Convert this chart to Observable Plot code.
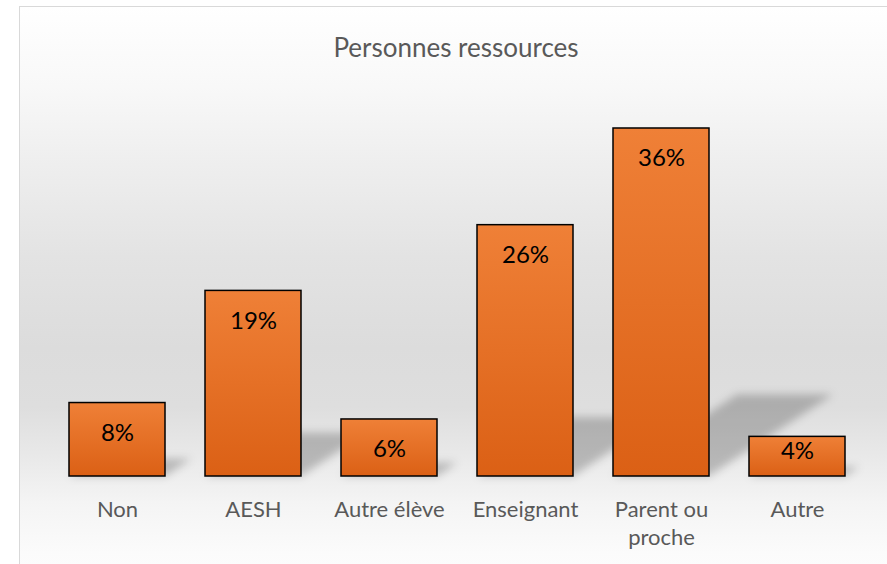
<!DOCTYPE html>
<html>
<head>
<meta charset="utf-8">
<script src="https://cdn.jsdelivr.net/npm/d3@7"></script>
<script src="https://cdn.jsdelivr.net/npm/@observablehq/plot@0.6"></script>
<style>
  html, body { margin: 0; padding: 0; background: #ffffff; overflow: hidden; }
  #wrap { position: relative; width: 887px; height: 564px; overflow: hidden; }
  #frame {
    position: absolute; left: 19px; top: 6px; width: 880px; height: 600px;
    border: 1.5px solid #d9d9d9; box-sizing: border-box;
    background: linear-gradient(to bottom, #ffffff 0px, #f8f8f8 80px, #efefef 150px, #e3e3e3 250px, #dcdcdc 340px, #dedede 400px, #e9e9e9 450px, #f4f4f4 495px, #fbfbfb 545px, #ffffff 600px);
  }
  #title {
    position: absolute; left: 19px; width: 874px; top: 30px; text-align: center;
    font-family: Lato, "Open Sans", sans-serif; font-size: 26px; color: #595959; line-height: 34px;
  }
  #chart { position: absolute; left: 0; top: 0; }
</style>
</head>
<body>
<div id="wrap">
  <div id="frame"></div>
  <div id="title">Personnes ressources</div>
  <div id="chart"></div>
</div>
<script>
const categories = ["Non", "AESH", "Autre élève", "Enseignant", "Parent ou\nproche", "Autre"];
const values = [7.6, 19.2, 5.9, 26, 36, 4.1];
const labels = ["8%", "19%", "6%", "26%", "36%", "4%"];

const data = categories.map((c, i) => ({category: c, value: values[i], label: labels[i]}));

const chart = Plot.plot({
  width: 887,
  height: 564,
  marginLeft: 49,
  marginRight: 22,
  marginTop: 89.33,
  marginBottom: 88,
  style: {background: "transparent", overflow: "visible"},
  x: {domain: categories, paddingInner: 0.294, paddingOuter: 0.147, label: null},
  y: {domain: [0, 40], axis: null},
  marks: [
    Plot.barY(data, {x: "category", y: "value", fill: "url(#barGrad)", stroke: "#000000", strokeWidth: 1.5}),
    Plot.text(data.filter(d => d.value >= 5), {x: "category", y: "value", text: "label", dy: 30, fontSize: 24, fill: "#000000", fontFamily: "Lato, 'Open Sans', sans-serif"}),
    Plot.text(data.filter(d => d.value < 5), {x: "category", y: "value", text: "label", dy: 14, fontSize: 24, fill: "#000000", fontFamily: "Lato, 'Open Sans', sans-serif"}),
    Plot.axisX({tickSize: 0, tickPadding: 21, fontSize: 22, lineHeight: 1.27, fill: "#595959", fontFamily: "Lato, 'Open Sans', sans-serif", label: null})
  ]
});

document.getElementById("chart").appendChild(chart);

// gradient + shadow definitions
const svg = d3.select(chart);
const defs = svg.insert("defs", ":first-child");
const grad = defs.append("linearGradient").attr("id", "barGrad").attr("x1", 0).attr("y1", 0).attr("x2", 0).attr("y2", 1);
grad.append("stop").attr("offset", "0%").attr("stop-color", "#ef8037");
grad.append("stop").attr("offset", "100%").attr("stop-color", "#db6015");
defs.append("filter").attr("id", "shadowBlur").attr("x", "-50%").attr("y", "-50%").attr("width", "200%").attr("height", "200%")
  .append("feGaussianBlur").attr("stdDeviation", 4);

// perspective shadows derived from the plot's scales
const xs = chart.scale("x");
const ys = chart.scale("y");
const bw = xs.bandwidth;
const base = ys.apply(0);
const shadowG = svg.insert("g", "g[aria-label='bar']").attr("filter", "url(#shadowBlur)");
data.forEach(d => {
  const x0 = xs.apply(d.category);
  const x1 = x0 + bw;
  const h = base - ys.apply(d.value);
  const dx = 0.357 * h, dyy = 0.235 * h;
  shadowG.append("polygon")
    .attr("points", [[x0, base], [x1, base], [x1 + dx, base - dyy], [x0 + dx, base - dyy]].map(p => p.join(",")).join(" "))
    .attr("fill", "#000").attr("fill-opacity", 0.22);
});
</script>
</body>
</html>
